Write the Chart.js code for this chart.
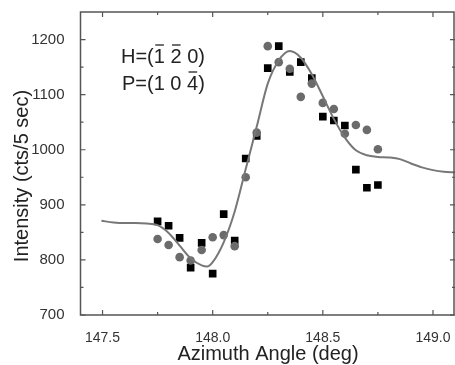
<!DOCTYPE html>
<html>
<head>
<meta charset="utf-8">
<script src="https://cdn.jsdelivr.net/npm/chart.js@4/dist/chart.umd.min.js"></script>
<style>
  body { margin: 0; background: #fff; }
  canvas { display: block; }
</style>
</head>
<body>
<canvas id="chart" width="455" height="365"></canvas>
<script>
// measured data, azimuth angle (deg) vs intensity (cts/5 sec)
const angles = [147.75, 147.80, 147.85, 147.90, 147.95, 148.00, 148.05, 148.10, 148.15, 148.20, 148.25,
                148.30, 148.35, 148.40, 148.45, 148.50, 148.55, 148.60, 148.65, 148.70, 148.75];
const squareValues = [870, 862, 840, 786, 831, 775, 883, 835, 984, 1025, 1148,
                      1188, 1141, 1159, 1130, 1060, 1053, 1044, 964, 931, 936];
const circleValues = [838, 827, 805, 799, 818, 841, 845, 825, 950, 1031, 1188,
                      1159, 1147, 1096, 1120, 1085, 1074, 1029, 1045, 1036, 1001];

// fitted curve
const curveAngles = [147.495, 147.55, 147.6, 147.65, 147.7, 147.75, 147.8, 147.85, 147.9, 147.95, 147.975,
                     148.0, 148.05, 148.1, 148.15, 148.2, 148.25, 148.3, 148.35, 148.4, 148.45, 148.5,
                     148.55, 148.6, 148.65, 148.7, 148.75, 148.8, 148.85, 148.9, 148.95, 149.0, 149.05, 149.1];
const curveValues = [871, 868, 867, 867, 866, 863, 849, 826, 803, 790, 788,
                     796, 832, 888, 965, 1042, 1120, 1162, 1179, 1167, 1137, 1097,
                     1056, 1022, 999, 990, 987, 986, 983, 975, 968, 963, 960, 959];

const xMajor = [147.5, 148.0, 148.5, 149.0];
const xMinor = [147.75, 148.25, 148.75];
const yMajor = [700, 800, 900, 1000, 1100, 1200];
const yMinor = [750, 850, 950, 1050, 1150];

function toPoints(xs, ys) {
    return xs.map((x, i) => ({ x: x, y: ys[i] }));
}

const FONT = '"Liberation Sans", Arial, sans-serif';
const axisColor = '#555';

const framePlugin = {
    id: 'frame',
    afterDraw(chart) {
        const ctx = chart.ctx;
        const a = chart.chartArea;
        const xs = chart.scales.x, ys = chart.scales.y;
        ctx.save();
        ctx.strokeStyle = axisColor;
        ctx.lineWidth = 1.5;
        ctx.strokeRect(a.left, a.top, a.right - a.left - 1, a.bottom - a.top);

        ctx.lineWidth = 1.2;
        ctx.beginPath();
        function xTick(v, len) {
            const px = xs.getPixelForValue(v);
            ctx.moveTo(px, a.bottom); ctx.lineTo(px, a.bottom - len);
            ctx.moveTo(px, a.top); ctx.lineTo(px, a.top + len);
        }
        function yTick(v, len) {
            const py = ys.getPixelForValue(v);
            ctx.moveTo(a.left, py); ctx.lineTo(a.left + len, py);
            ctx.moveTo(a.right, py); ctx.lineTo(a.right - len, py);
        }
        xMajor.forEach(v => xTick(v, 5));
        xMinor.forEach(v => xTick(v, 3));
        yMajor.forEach(v => yTick(v, 5));
        yMinor.forEach(v => yTick(v, 3));
        ctx.stroke();

        // axis titles
        ctx.fillStyle = '#222';
        ctx.font = '20px ' + FONT;
        ctx.textAlign = 'center';
        ctx.textBaseline = 'alphabetic';
        ctx.fillText('Azimuth Angle (deg)', 268, 360);
        ctx.save();
        ctx.translate(28, 176);
        ctx.rotate(-Math.PI / 2);
        ctx.fillText('Intensity (cts/5 sec)', 0, 0);
        ctx.restore();

        // Miller indices with overbars
        ctx.font = '20px ' + FONT;
        ctx.textAlign = 'left';
        const line1 = 'H=(1 2 0)', line2 = 'P=(1 0 4)';
        const x1 = 121, b1 = 63, x2 = 122, b2 = 90;
        ctx.fillText(line1, x1, b1);
        ctx.fillText(line2, x2, b2);
        ctx.strokeStyle = '#222';
        ctx.lineWidth = 1.3;
        function bar(x0, pre, ch, base) {
            const sx = x0 + ctx.measureText(pre).width;
            const w = ctx.measureText(ch).width;
            ctx.beginPath();
            ctx.moveTo(sx + 1.5, base - 18);
            ctx.lineTo(sx + w - 1, base - 18);
            ctx.stroke();
        }
        bar(x1, 'H=(', '1', b1);
        bar(x1, 'H=(1 ', '2', b1);
        bar(x2, 'P=(1 0 ', '4', b2);
        ctx.restore();
    }
};

new Chart(document.getElementById('chart'), {
    type: 'scatter',
    data: {
        datasets: [{
            label: 'fit',
            data: toPoints(curveAngles, curveValues),
            showLine: true,
            borderColor: '#777',
            borderWidth: 2,
            pointRadius: 0,
            cubicInterpolationMode: 'monotone',
            order: 0
        }, {
            label: 'circles',
            data: toPoints(angles, circleValues),
            pointStyle: 'circle',
            pointRadius: 4.3,
            backgroundColor: '#6b6b6b',
            borderColor: '#6b6b6b',
            borderWidth: 0,
            order: 1
        }, {
            label: 'squares',
            data: toPoints(angles, squareValues),
            pointStyle: 'rect',
            pointRadius: 5.4,
            backgroundColor: '#000',
            borderColor: '#000',
            borderWidth: 0,
            order: 2
        }]
    },
    options: {
        responsive: false,
        animation: false,
        layout: { autoPadding: false, padding: { top: 12, right: 0, left: 0, bottom: 0 } },
        plugins: {
            legend: { display: false },
            tooltip: { enabled: false }
        },
        scales: {
            x: {
                type: 'linear',
                min: 147.4,
                max: 149.1,
                grid: { display: false },
                border: { display: false },
                afterBuildTicks: s => { s.ticks = xMajor.map(v => ({ value: v })); },
                afterFit: s => { s.height = 50; s.paddingLeft = 0; s.paddingRight = 0; },
                ticks: {
                    padding: 7,
                    color: '#333',
                    font: { family: FONT, size: 14 },
                    callback: v => v.toFixed(1)
                }
            },
            y: {
                min: 700,
                max: 1250,
                grid: { display: false },
                border: { display: false },
                afterBuildTicks: s => { s.ticks = yMajor.map(v => ({ value: v })); },
                afterFit: s => { s.width = 80.5; s.paddingTop = 0; s.paddingBottom = 0; },
                ticks: {
                    padding: 8,
                    color: '#333',
                    font: { family: FONT, size: 15 },
                    callback: v => String(v)
                }
            }
        }
    },
    plugins: [framePlugin]
});
</script>
</body>
</html>
